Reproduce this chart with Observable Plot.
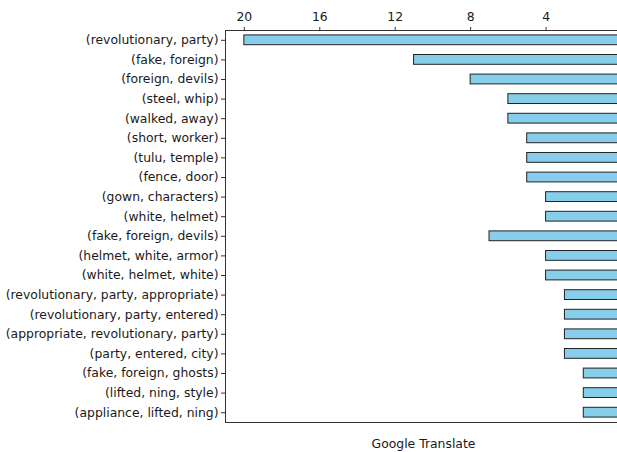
<!DOCTYPE html>
<html>
<head>
<meta charset="utf-8">
<script src="https://cdn.jsdelivr.net/npm/d3@7"></script>
<script src="https://cdn.jsdelivr.net/npm/@observablehq/plot@0.6"></script>
<style>
  html, body { margin: 0; padding: 0; overflow: hidden; background: #fff; }
  #chart { width: 617px; height: 452px; overflow: hidden; }
  #chart svg { max-width: none !important; }
</style>
</head>
<body>
<div id="chart"></div>
<script>
const ngrams = [
  "(revolutionary, party)",
  "(fake, foreign)",
  "(foreign, devils)",
  "(steel, whip)",
  "(walked, away)",
  "(short, worker)",
  "(tulu, temple)",
  "(fence, door)",
  "(gown, characters)",
  "(white, helmet)",
  "(fake, foreign, devils)",
  "(helmet, white, armor)",
  "(white, helmet, white)",
  "(revolutionary, party, appropriate)",
  "(revolutionary, party, entered)",
  "(appropriate, revolutionary, party)",
  "(party, entered, city)",
  "(fake, foreign, ghosts)",
  "(lifted, ning, style)",
  "(appliance, lifted, ning)"
];
const counts = [20, 11, 8, 6, 6, 5, 5, 5, 4, 4, 7, 4, 4, 3, 3, 3, 3, 2, 2, 2];
const xTicks = [20, 16, 12, 8, 4];
const xLabel = "Google Translate";

const data = ngrams.map((n, i) => ({ngram: n, count: counts[i]}));

const FS = 12.4;
const chart = Plot.plot({
  width: 621,
  height: 452,
  marginTop: 30,
  marginBottom: 30,
  marginLeft: 225,
  marginRight: 0,
  style: { fontFamily: "DejaVu Sans", fontSize: FS + "px", color: "#1a1a1a", background: "#fff", maxWidth: "none" },
  x: { domain: [21, 0], label: null },
  y: { domain: ngrams, padding: 0, round: false, label: null },
  marks: [
    Plot.barX(data, {
      x: "count", y: "ngram",
      fill: "#87CEEB", stroke: "#222", strokeWidth: 1,
      insetTop: 4.9, insetBottom: 4.9
    }),
    Plot.frame({ stroke: "#333", strokeWidth: 1 }),
    Plot.axisX(xTicks, { anchor: "top", tickSize: 4, tickPadding: 6, fontSize: FS, label: null, stroke: "#333" }),
    Plot.axisY({ anchor: "left", tickSize: 4, tickPadding: 3, fontSize: FS, label: null, stroke: "#333" }),
    Plot.text([xLabel], { frameAnchor: "bottom", dy: 25, fontSize: FS, fill: "#1a1a1a" })
  ]
});
chart.style.maxWidth = "none";
document.getElementById("chart").appendChild(chart);
</script>
</body>
</html>
